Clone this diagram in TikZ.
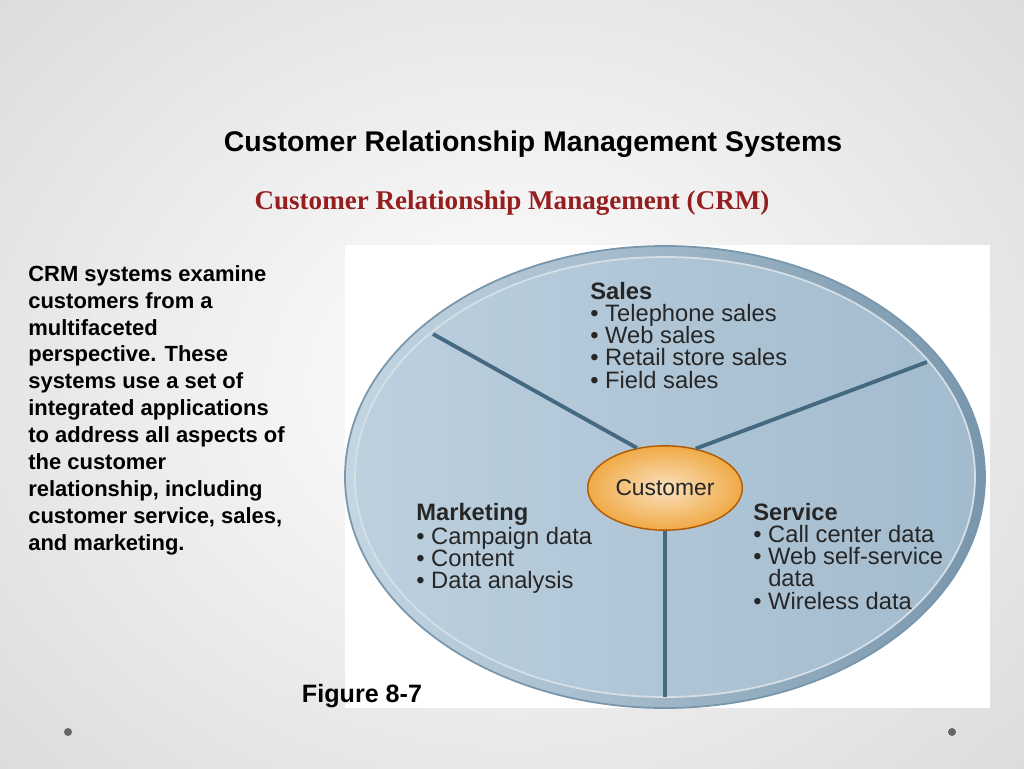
\documentclass[tikz,border=0pt]{standalone}
\usepackage{fontspec}
\setmainfont{Liberation Sans}
\newfontfamily\serifcrm{Liberation Serif}
\usetikzlibrary{positioning,shapes.geometric}
\definecolor{crmred}{RGB}{150,30,30}
\definecolor{wheelfill}{RGB}{172,196,214}
\definecolor{wheeldark}{RGB}{120,150,172}
\definecolor{spoke}{RGB}{70,105,130}
\definecolor{custorange}{RGB}{240,170,70}
\tikzset{
  segtext/.style={anchor=north west, align=left, font=\fontsize{13.5}{12.6}\selectfont, text=black!85, inner sep=0pt},
  spokeline/.style={draw=spoke, line width=2.2pt},
}
\begin{document}
\begin{tikzpicture}[x=0.02cm, y=-0.02cm]
% Background of the slide
\useasboundingbox (0,0) rectangle (1024,768);
\shade[inner color=white, outer color=black!14] (-200,-200) rectangle (1224,968);
\fill[white] (345,245) rectangle (990,708);
\fill[black!60] (68,732) circle (4);
\fill[black!60] (952,732) circle (4);

% Titles
\node[font=\fontsize{16.2}{19}\selectfont\bfseries] (title) at (533,144) {Customer Relationship Management Systems};
\node[font=\serifcrm\fontsize{15.4}{18}\selectfont\bfseries, text=crmred] (subtitle) at (512,203) {Customer Relationship Management (CRM)};

% Left description
\node[anchor=north west, align=left, inner sep=0pt, font=\fontsize{12.5}{15.3}\selectfont\bfseries] (desc) at (28,265)
  {CRM systems examine\\customers from a\\multifaceted\\perspective. These\\systems use a set of\\integrated applications\\to address all aspects of\\the customer\\relationship, including\\customer service, sales,\\and marketing.};

% The wheel
\draw[wheeldark, line width=1pt, left color=wheelfill!70, right color=wheeldark] (665,477) ellipse (320 and 231);
\draw[white!70!wheeldark, line width=1pt, left color=wheelfill!80!white, right color=wheelfill!80!wheeldark] (665,477) ellipse (310 and 220);
\node[draw=orange!70!black, line width=0.8pt, ellipse, inner color=custorange!35, outer color=custorange, minimum width=88pt, minimum height=48pt, inner sep=0pt, font=\fontsize{13}{15}\selectfont, text=black!85] (cust) at (665,488) {Customer};

% Spokes
\coordinate (sl) at (433,334);
\coordinate (sr) at (927,362);
\coordinate (sb) at (665,697);
\draw[spokeline] (cust.125) -- (sl);
\draw[spokeline] (cust.52) -- (sr);
\draw[spokeline] (cust.south) -- (sb);

% Segment texts
\node[segtext] (sales) at (590,282) {\textbf{Sales}\\\textbullet\ Telephone sales\\\textbullet\ Web sales\\\textbullet\ Retail store sales\\\textbullet\ Field sales};
\node[segtext] (mkt) at (416,503) {\textbf{Marketing}\\\textbullet\ Campaign data\\\textbullet\ Content\\\textbullet\ Data analysis};
\node[segtext] (serv) at (753,503) {\textbf{Service}\\\textbullet\ Call center data\\\textbullet\ Web self-service\\\phantom{\textbullet\ }data\\\textbullet\ Wireless data};

% Caption
\node[font=\fontsize{14.3}{16}\selectfont\bfseries] (fig) at (362,696) {Figure 8-7};
\end{tikzpicture}
\end{document}
